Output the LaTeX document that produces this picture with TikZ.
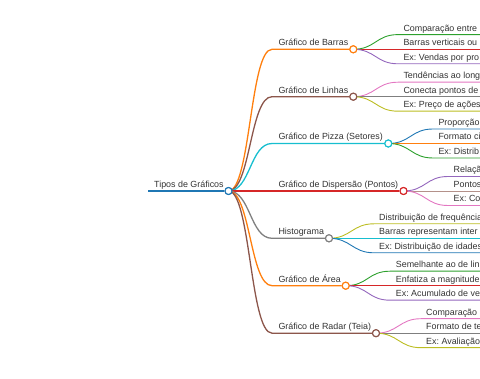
\documentclass[tikz,border=0pt]{standalone}
\usepackage{fontspec}
\setmainfont{Liberation Sans}
\frenchspacing
\definecolor{cblue}{HTML}{1F77B4}
\definecolor{corange}{HTML}{FF7F0E}
\definecolor{cgreen}{HTML}{2CA02C}
\definecolor{cred}{HTML}{D62728}
\definecolor{cpurple}{HTML}{9467BD}
\definecolor{cbrown}{HTML}{8C564B}
\definecolor{cpink}{HTML}{E377C2}
\definecolor{cgray}{HTML}{7F7F7F}
\definecolor{colive}{HTML}{BCBD22}
\definecolor{ccyan}{HTML}{17BECF}
\definecolor{txtgray}{HTML}{333333}
\begin{document}
\begin{tikzpicture}[x=1pt, y=-1pt, font=\fontsize{8.9}{10}\selectfont]
      \tikzset{lbl/.style={anchor=base west, inner sep=0pt, text=txtgray},
        dot/.style={circle, draw, fill=white, line width=1.1pt, minimum size=7pt, inner sep=0pt},
        link0/.style={line width=1.8pt},
        link1/.style={line width=1.3pt},
        link2/.style={line width=0.9pt}}
      \useasboundingbox (0,0) rectangle (480,379);
      \clip (0,0) rectangle (480,379);

      % raiz
      \coordinate (rs) at (148,191);
      \node[dot, draw=cblue] (root) at (228.5,191) {};
      \node[lbl] (troot) at (154,187.6) {Tipos de Gráficos};

      % ramos principais
      \node[dot, draw=corange] (barras) at (353.3,49.3) {};
      \node[dot, draw=cbrown] (linhas) at (353.3,96.7) {};
      \node[dot, draw=ccyan] (pizza) at (388.3,143.5) {};
      \node[dot, draw=cred] (disp) at (403.5,191) {};
      \node[dot, draw=cgray] (histo) at (329,238.3) {};
      \node[dot, draw=corange] (area) at (345.7,285.7) {};
      \node[dot, draw=cbrown] (radar) at (376,333.2) {};

      \coordinate (lbarras) at (272,49.3);
      \coordinate (llinhas) at (272,96.7);
      \coordinate (lpizza) at (272,143.5);
      \coordinate (ldisp) at (272,191);
      \coordinate (lhisto) at (272,238.3);
      \coordinate (larea) at (272,285.7);
      \coordinate (lradar) at (272,333.2);

      % filhos: inicio das linhas
      \coordinate (b1) at (398,34.6);  \coordinate (b2) at (398,49.3);  \coordinate (b3) at (398,63.8);
      \coordinate (l1) at (398,82.2);  \coordinate (l2) at (398,96.7);  \coordinate (l3) at (398,111.2);
      \coordinate (p1) at (433,129);   \coordinate (p2) at (433,143.5); \coordinate (p3) at (433,158);
      \coordinate (d1) at (448,176.5); \coordinate (d2) at (448,191);   \coordinate (d3) at (448,205.5);
      \coordinate (h1) at (374,223.8); \coordinate (h2) at (374,238.3); \coordinate (h3) at (374,252.8);
      \coordinate (a1) at (390,271.2); \coordinate (a2) at (390,285.7); \coordinate (a3) at (390,300.2);
      \coordinate (r1) at (421,318.7); \coordinate (r2) at (421,333.2); \coordinate (r3) at (421,347.7);

      % ligacoes nivel 2
      \draw[link2, cgreen] (barras.center) .. controls +(22,0) and +(-22,0) .. (b1) -- ++(120,0);
      \draw[link2, cred] (barras.center) -- (b2) -- ++(120,0);
      \draw[link2, cpurple] (barras.center) .. controls +(22,0) and +(-22,0) .. (b3) -- ++(120,0);
      \draw[link2, cpink] (linhas.center) .. controls +(22,0) and +(-22,0) .. (l1) -- ++(120,0);
      \draw[link2, cgray] (linhas.center) -- (l2) -- ++(120,0);
      \draw[link2, colive] (linhas.center) .. controls +(22,0) and +(-22,0) .. (l3) -- ++(120,0);
      \draw[link2, cblue] (pizza.center) .. controls +(22,0) and +(-22,0) .. (p1) -- ++(120,0);
      \draw[link2, corange] (pizza.center) -- (p2) -- ++(120,0);
      \draw[link2, cgreen] (pizza.center) .. controls +(22,0) and +(-22,0) .. (p3) -- ++(120,0);
      \draw[link2, cpurple] (disp.center) .. controls +(22,0) and +(-22,0) .. (d1) -- ++(120,0);
      \draw[link2, cbrown] (disp.center) -- (d2) -- ++(120,0);
      \draw[link2, cpink] (disp.center) .. controls +(22,0) and +(-22,0) .. (d3) -- ++(120,0);
      \draw[link2, colive] (histo.center) .. controls +(22,0) and +(-22,0) .. (h1) -- ++(120,0);
      \draw[link2, ccyan] (histo.center) -- (h2) -- ++(120,0);
      \draw[link2, cblue] (histo.center) .. controls +(22,0) and +(-22,0) .. (h3) -- ++(120,0);
      \draw[link2, cgreen] (area.center) .. controls +(22,0) and +(-22,0) .. (a1) -- ++(120,0);
      \draw[link2, cred] (area.center) -- (a2) -- ++(120,0);
      \draw[link2, cpurple] (area.center) .. controls +(22,0) and +(-22,0) .. (a3) -- ++(120,0);
      \draw[link2, cpink] (radar.center) .. controls +(22,0) and +(-22,0) .. (r1) -- ++(120,0);
      \draw[link2, cgray] (radar.center) -- (r2) -- ++(120,0);
      \draw[link2, colive] (radar.center) .. controls +(22,0) and +(-22,0) .. (r3) -- ++(120,0);

      % ligacoes nivel 1
      \draw[link1, corange] (root.center) .. controls +(22,0) and +(-22,0) .. (lbarras) -- (barras);
      \draw[link1, cbrown] (root.center) .. controls +(22,0) and +(-22,0) .. (llinhas) -- (linhas);
      \draw[link1, ccyan] (root.center) .. controls +(22,0) and +(-22,0) .. (lpizza) -- (pizza);
      \draw[link1, cred] (root.center) -- (ldisp) -- (disp);
      \draw[link1, cgray] (root.center) .. controls +(22,0) and +(-22,0) .. (lhisto) -- (histo);
      \draw[link1, corange] (root.center) .. controls +(22,0) and +(-22,0) .. (larea) -- (area);
      \draw[link1, cbrown] (root.center) .. controls +(22,0) and +(-22,0) .. (lradar) -- (radar);
      \draw[link0, cblue] (rs) -- (root);

      % circulos por cima
      \node[dot, draw=cblue] at (root) {};
      \node[dot, draw=corange] at (barras) {};
      \node[dot, draw=cbrown] at (linhas) {};
      \node[dot, draw=ccyan] at (pizza) {};
      \node[dot, draw=cred] at (disp) {};
      \node[dot, draw=cgray] at (histo) {};
      \node[dot, draw=corange] at (area) {};
      \node[dot, draw=cbrown] at (radar) {};

      % textos nivel 1
      \node[lbl] (tbarras) at (278.3,45.8) {Gráfico de Barras};
      \node[lbl] (tlinhas) at (278.3,93.2) {Gráfico de Linhas};
      \node[lbl] (tpizza) at (278.3,140) {Gráfico de Pizza (Setores)};
      \node[lbl] (tdisp) at (278.3,187.5) {Gráfico de Dispersão (Pontos)};
      \node[lbl] (thisto) at (278.3,234.8) {Histograma};
      \node[lbl] (tarea) at (278.3,282.2) {Gráfico de Área};
      \node[lbl] (tradar) at (278.3,329.7) {Gráfico de Radar (Teia)};

      % textos nivel 2 (cortados na margem)
      \node[lbl] (tb1) at (403.3,31.1) {Comparação entre};
      \node[lbl] (tb2) at (403.3,45.8) {Barras verticais ou};
      \node[lbl] (tb3) at (403.3,60.3) {Ex: Vendas por pro};
      \node[lbl] (tl1) at (403.3,78.7) {Tendências ao long};
      \node[lbl] (tl2) at (403.3,93.2) {Conecta pontos de};
      \node[lbl] (tl3) at (403.3,107.7) {Ex: Preço de ações};
      \node[lbl] (tp1) at (438.3,125.5) {Proporção};
      \node[lbl] (tp2) at (438.3,140) {Formato ci};
      \node[lbl] (tp3) at (438.3,154.5) {Ex: Distrib};
      \node[lbl] (td1) at (453.5,173) {Relaçã};
      \node[lbl] (td2) at (453.5,187.5) {Pontos};
      \node[lbl] (td3) at (453.5,202) {Ex: Co};
      \node[lbl] (th1) at (379,220.3) {Distribuição de frequência};
      \node[lbl] (th2) at (379,234.8) {Barras representam inter};
      \node[lbl] (th3) at (379,249.3) {Ex: Distribuição de idades};
      \node[lbl] (ta1) at (395.7,267.7) {Semelhante ao de lin};
      \node[lbl] (ta2) at (395.7,282.2) {Enfatiza a magnitude};
      \node[lbl] (ta3) at (395.7,296.7) {Ex: Acumulado de ve};
      \node[lbl] (tr1) at (426,315.2) {Comparação};
      \node[lbl] (tr2) at (426,329.7) {Formato de te};
      \node[lbl] (tr3) at (426,344.2) {Ex: Avaliação};
    \end{tikzpicture}
\end{document}
